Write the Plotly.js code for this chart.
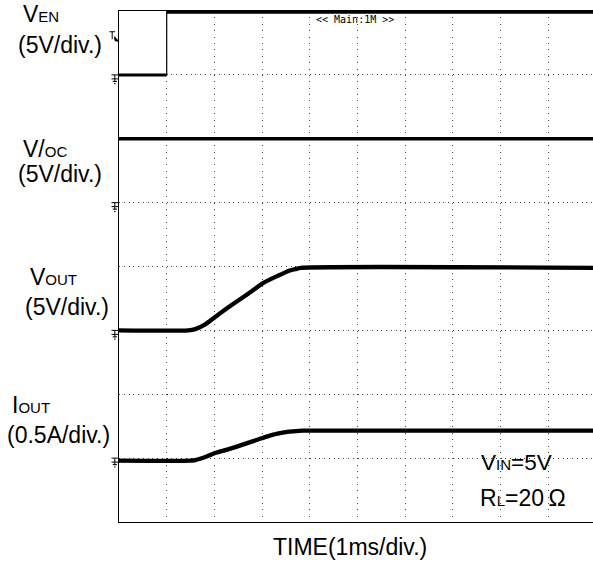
<!DOCTYPE html>
<html>
<head>
<meta charset="utf-8">
<script src="https://cdn.plot.ly/plotly-3.0.1.min.js"></script>
<style>html,body{margin:0;padding:0;background:#fff;}#chart{width:593px;height:565px;}</style>
</head>
<body>
<div id="chart"></div>
<script>
// ---- data (time in divisions of 1 ms, amplitude in screen divisions) ----
const venT  = [0, 1.0, 1.0, 9.94];
const venV  = [7.0, 7.0, 7.98, 7.98];
const vocT  = [0, 9.94];
const vocV  = [6.0, 6.0];
const voutT = [0, 1.45, 1.60, 1.80, 2.05, 2.33, 2.70, 3.02, 3.20, 3.38, 3.55, 3.70, 3.82, 9.94];
const voutV = [3.0, 3.0, 3.02, 3.09, 3.23, 3.38, 3.57, 3.74, 3.81, 3.87, 3.93, 3.96, 3.98, 3.98];
const ioutT = [0, 1.49, 1.60, 1.70, 1.85, 2.01, 2.25, 2.47, 2.75, 2.99, 3.20, 3.38, 3.52, 3.65, 3.85, 9.94];
const ioutV = [0.96, 0.96, 0.97, 0.99, 1.03, 1.08, 1.13, 1.18, 1.25, 1.31, 1.36, 1.39, 1.41, 1.42, 1.43, 1.43];
const groundLevels = [7, 5, 3, 1];
const triggerLevel = 7.55;

// ---- layout geometry ----
const W = 593, H = 565, ML = 119, MT = 11, MB = 43;
const PW = W - ML, PH = H - MT - MB;
const PXDIV = 47.7;
const FONT = '"Liberation Sans", Arial, Helvetica, sans-serif';
const px2x = p => (p - ML) / PW;
const px2y = p => (H - MB - p) / PH;

// thick trace for VEN levels (gap at the fast edge) + thin edge
function gapAtEdges(t, v) {
  const xs = [], ys = [];
  for (let i = 0; i < t.length; i++) {
    if (i > 0 && t[i] === t[i - 1]) { xs.push(null); ys.push(null); }
    xs.push(t[i]); ys.push(v[i]);
  }
  return {xs, ys};
}
const venThick = gapAtEdges(venT, venV);

const traces = [
  {x: venT, y: venV, mode: 'lines', line: {color: '#000', width: 1.2}, hoverinfo: 'skip'},
  {x: venThick.xs, y: venThick.ys, mode: 'lines', connectgaps: false, line: {color: '#000', width: 3}, hoverinfo: 'skip'},
  {x: vocT, y: vocV, mode: 'lines', line: {color: '#000', width: 3.5}, hoverinfo: 'skip'},
  {x: voutT, y: voutV, mode: 'lines', line: {color: '#000', width: 4.3, shape: 'spline', smoothing: 0.6}, hoverinfo: 'skip'},
  {x: ioutT, y: ioutV, mode: 'lines', line: {color: '#000', width: 4.3, shape: 'spline', smoothing: 0.6}, hoverinfo: 'skip'}
];

const SUB = s => '<span style="font-size:15px">' + s + '</span>';
function lab(text, left, baseline, size) {
  return {
    text: text, xref: 'paper', yref: 'paper', xanchor: 'left', yanchor: 'bottom',
    x: px2x(left - 2), y: px2y(baseline + 0.22 * size + 1.5),
    showarrow: false, font: {family: FONT, size: size, color: '#000'}
  };
}
const annotations = [
  lab('V' + SUB('EN'), 22.7, 22.7, 23),
  lab('(5V/div.)', 18.3, 53.3, 23),
  lab('V/' + SUB('OC'), 22.7, 157.5, 23),
  lab('(5V/div.)', 18.3, 182, 23),
  lab('V' + SUB('OUT'), 30, 285, 23),
  lab('(5V/div.)', 25, 315, 23),
  lab('I' + SUB('OUT'), 11.7, 413.3, 23),
  lab('(0.5A/div.)', 6.7, 443.3, 23),
  lab('V' + SUB('IN') + '=5V', 481, 470.7, 22.5),
  lab('R' + SUB('L') + '=20\u2009\u03A9', 480, 506, 23),
  lab('TIME(1ms/div.)', 273, 555, 23),
  {text: '&lt;&lt; Main:1M &gt;&gt;', xref: 'paper', yref: 'paper', xanchor: 'left', yanchor: 'middle',
   x: px2x(314), y: px2y(19.5), showarrow: false,
   font: {family: '"DejaVu Sans Mono", monospace', size: 10, color: '#000'}}
];

const groundPath = 'M-7.5,0 L-0.8,0 M-4.2,0 L-4.2,-7 M-7.5,-4 L-0.8,-4 M-6.3,-6.5 L-2,-6.5 M-5,-8.8 L-3.5,-8.8';
const shapes = groundLevels.map(g => ({
  type: 'path', xref: 'paper', yref: 'y', xsizemode: 'pixel', ysizemode: 'pixel',
  xanchor: 0, yanchor: g, path: groundPath, line: {color: '#000', width: 1}
}));
shapes.push({
  type: 'path', xref: 'paper', yref: 'y', xsizemode: 'pixel', ysizemode: 'pixel',
  xanchor: 0, yanchor: triggerLevel, path: 'M-9.5,8 L-4,8 M-6.8,8 L-6.8,0.5',
  line: {color: '#000', width: 1}
});
shapes.push({
  type: 'path', xref: 'paper', yref: 'y', xsizemode: 'pixel', ysizemode: 'pixel',
  xanchor: 0, yanchor: triggerLevel, path: 'M-4.5,3 L-0.5,-1.5 L-4,-1 Z',
  line: {color: '#000', width: 1}, fillcolor: '#000'
});

const layout = {
  width: W, height: H,
  margin: {l: ML, r: 0, t: MT, b: MB, pad: 0},
  paper_bgcolor: '#fff', plot_bgcolor: '#fff',
  showlegend: false,
  xaxis: {
    range: [0, PW / PXDIV], dtick: 1, tick0: 0, showticklabels: false, ticks: '',
    showgrid: true, gridcolor: '#444', gridwidth: 1, griddash: '1px,5.39px',
    zeroline: false, showline: true, linecolor: '#000', linewidth: 1, mirror: true,
    fixedrange: true
  },
  yaxis: {
    range: [0, 8], dtick: 1, tick0: 0, showticklabels: false, ticks: '',
    showgrid: true, gridcolor: '#444', gridwidth: 1, griddash: '1px,3.77px',
    zeroline: false, showline: true, linecolor: '#000', linewidth: 1, mirror: false,
    fixedrange: true
  },
  annotations: annotations,
  shapes: shapes
};

Plotly.newPlot('chart', traces, layout, {displayModeBar: false, staticPlot: true});
</script>
</body>
</html>
